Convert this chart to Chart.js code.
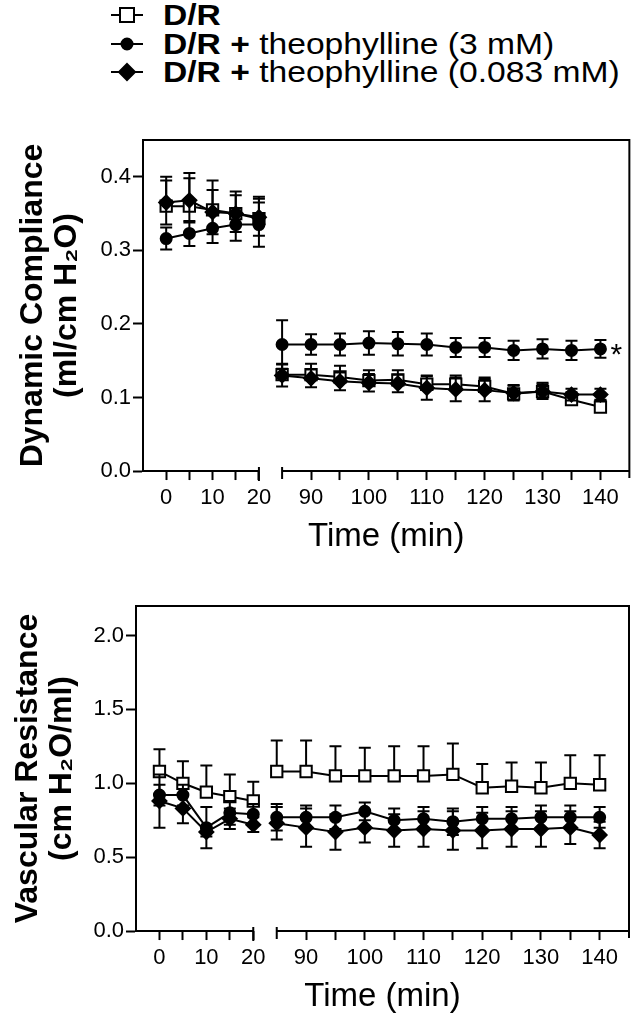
<!DOCTYPE html>
<html>
<head>
<meta charset="utf-8">
<script src="https://cdn.jsdelivr.net/npm/chart.js@4.4.1/dist/chart.umd.min.js"></script>
<style>
  body { margin: 0; background: #fff; width: 640px; height: 1018px; overflow: hidden; position: relative;
         font-family: 'Liberation Sans', Arial, sans-serif; color: #000; }
  #legend { position: absolute; left: 110px; top: 1px; }
  .row { height: 28.5px; display: flex; align-items: center; font-size: 30px; white-space: nowrap; }
  .row canvas { margin-right: 19px; }
  .row span { display: inline-block; transform: scaleX(1.12); transform-origin: left center; }
  #top { position: absolute; left: 0; top: 90px; }
  #bottom { position: absolute; left: 0; top: 560px; }
</style>
</head>
<body>
<div id="legend"></div>
<canvas id="top" width="640" height="470"></canvas>
<canvas id="bottom" width="640" height="458"></canvas>
<script>
// sampling times (min); the axis is broken between 20 and 85
const times = [0, 5, 10, 15, 20, 85, 90, 95, 100, 105, 110, 115, 120, 125, 130, 135, 140];
const seriesLabels = ['D/R', 'D/R + theophylline (3 mM)', 'D/R + theophylline (0.083 mM)'];

// dynamic compliance (ml/cm H2O), mean and SEM
const complianceDR = [0.360, 0.360, 0.355, 0.350, 0.343, 0.131, 0.131, 0.128, 0.123, 0.124, 0.118, 0.118, 0.115, 0.105, 0.108, 0.097, 0.087];
const complianceDRErr = [0.040, 0.045, 0.040, 0.030, 0.030, 0.015, 0.015, 0.015, 0.014, 0.013, 0.012, 0.012, 0.012, 0.012, 0.012, 0.010, 0.010];
const complianceTheo3 = [0.316, 0.323, 0.330, 0.335, 0.335, 0.172, 0.172, 0.172, 0.174, 0.173, 0.172, 0.168, 0.168, 0.164, 0.166, 0.164, 0.166];
const complianceTheo3Err = [0.015, 0.017, 0.020, 0.022, 0.030, 0.033, 0.014, 0.015, 0.016, 0.016, 0.015, 0.013, 0.013, 0.013, 0.013, 0.013, 0.012];
const complianceTheo083 = [0.365, 0.368, 0.352, 0.350, 0.345, 0.130, 0.126, 0.122, 0.120, 0.119, 0.113, 0.111, 0.110, 0.106, 0.108, 0.104, 0.104];
const complianceTheo083Err = [0.030, 0.030, 0.030, 0.025, 0.025, 0.015, 0.012, 0.012, 0.012, 0.012, 0.016, 0.016, 0.015, 0.010, 0.010, 0.008, 0.008];

// vascular resistance (cm H2O/ml), mean and SEM
const resistanceDR = [1.08, 1.00, 0.94, 0.91, 0.88, 1.08, 1.08, 1.05, 1.05, 1.05, 1.05, 1.06, 0.97, 0.98, 0.97, 1.00, 0.99];
const resistanceDRErr = [0.15, 0.15, 0.18, 0.15, 0.13, 0.21, 0.21, 0.20, 0.19, 0.20, 0.20, 0.21, 0.16, 0.16, 0.17, 0.19, 0.20];
const resistanceTheo3 = [0.92, 0.92, 0.70, 0.80, 0.79, 0.77, 0.77, 0.77, 0.81, 0.75, 0.76, 0.74, 0.76, 0.76, 0.77, 0.77, 0.77];
const resistanceTheo3Err = [0.07, 0.07, 0.14, 0.08, 0.07, 0.09, 0.08, 0.08, 0.06, 0.08, 0.08, 0.09, 0.08, 0.08, 0.08, 0.08, 0.07];
const resistanceTheo083 = [0.88, 0.83, 0.67, 0.76, 0.72, 0.73, 0.70, 0.67, 0.70, 0.68, 0.69, 0.68, 0.68, 0.69, 0.69, 0.70, 0.65];
const resistanceTheo083Err = [0.18, 0.10, 0.03, 0.07, 0.05, 0.11, 0.13, 0.12, 0.10, 0.11, 0.12, 0.13, 0.12, 0.12, 0.12, 0.11, 0.09];

// ticks
const xTicksEarly = [0, 5, 10, 15, 20];
const xTicksLate = [90, 95, 100, 105, 110, 115, 120, 125, 130, 135, 140];
const complianceTicks = [0, 0.1, 0.2, 0.3, 0.4];
const resistanceTicks = [0, 0.5, 1.0, 1.5, 2.0];

const FONT = 'Liberation Sans';
const styles = [
  { pointStyle: 'rect', pointRadius: 8, pointBackgroundColor: '#fff', errorDir: 'up', order: 3 },
  { pointStyle: 'circle', pointRadius: 5.5, pointBackgroundColor: '#000', errorDir: 'both', order: 2 },
  { pointStyle: 'rectRot', pointRadius: 7, pointBackgroundColor: '#000', errorDir: 'both', order: 1 }
];

function buildDatasets(values, errors) {
  const out = [];
  values.forEach((vals, k) => {
    [['x1', t => t <= 20], ['x2', t => t >= 85]].forEach(([axis, keep]) => {
      const idx = times.map((t, i) => i).filter(i => keep(times[i]));
      out.push(Object.assign({
        label: seriesLabels[k],
        xAxisID: axis,
        yAxisID: 'y',
        data: idx.map(i => ({ x: times[i], y: vals[i] })),
        errors: idx.map(i => errors[k][i]),
        borderColor: '#000',
        borderWidth: 2,
        pointBorderColor: '#000',
        pointBorderWidth: 2,
        pointHoverRadius: 0,
        tension: 0,
        fill: false
      }, styles[k]));
    });
  });
  return out;
}

const errorBars = {
  id: 'errorBars',
  beforeDatasetDraw(chart, args) {
    const ds = chart.data.datasets[args.index];
    if (!ds.errors) return;
    const yScale = chart.scales[args.meta.yAxisID];
    const ctx = chart.ctx;
    ctx.save();
    ctx.strokeStyle = '#000';
    ctx.lineWidth = 2;
    args.meta.data.forEach((pt, i) => {
      const v = ds.data[i].y, e = ds.errors[i];
      const yHi = yScale.getPixelForValue(v + e);
      const yLo = ds.errorDir === 'up' ? pt.y : yScale.getPixelForValue(v - e);
      ctx.beginPath();
      ctx.moveTo(pt.x, yLo); ctx.lineTo(pt.x, yHi);
      ctx.moveTo(pt.x - 6, yHi); ctx.lineTo(pt.x + 6, yHi);
      if (ds.errorDir !== 'up') { ctx.moveTo(pt.x - 6, yLo); ctx.lineTo(pt.x + 6, yLo); }
      ctx.stroke();
    });
    ctx.restore();
  }
};

// frame + broken x axis line
const brokenAxis = {
  id: 'brokenAxis',
  afterDraw(chart) {
    const { ctx, chartArea: a, scales } = chart;
    const yb = a.bottom;
    const e = scales.x1.getPixelForValue(20);
    const s = scales.x2.getPixelForValue(85);
    ctx.save();
    ctx.strokeStyle = '#000';
    ctx.lineWidth = 2;
    ctx.beginPath();
    ctx.moveTo(a.left, a.top); ctx.lineTo(a.right, a.top); ctx.lineTo(a.right, yb + 7);
    ctx.moveTo(a.left, yb); ctx.lineTo(e, yb);
    ctx.moveTo(e, yb - 4); ctx.lineTo(e, yb + 10);
    ctx.moveTo(s, yb - 4); ctx.lineTo(s, yb + 8);
    ctx.moveTo(s, yb); ctx.lineTo(a.right, yb);
    ctx.stroke();
    ctx.restore();
  }
};

const starMark = {
  id: 'starMark',
  afterDatasetsDraw(chart, args, opts) {
    if (!opts || !opts.text) return;
    const meta = chart.getDatasetMeta(opts.datasetIndex);
    const pt = meta.data[meta.data.length - 1];
    const ctx = chart.ctx;
    ctx.save();
    ctx.fillStyle = '#000';
    ctx.font = '30px "' + FONT + '"';
    ctx.textAlign = 'left';
    ctx.textBaseline = 'middle';
    ctx.fillText(opts.text, pt.x + 10, pt.y + 7);
    ctx.restore();
  }
};

function makePanel(id, cfg) {
  const tickFont = { family: FONT, size: 22 };
  const xCommon = {
    type: 'linear', position: 'bottom', stack: 'time',
    afterFit: s => { s.height = 40; },
    ticks: { font: tickFont, color: '#000', padding: 5, autoSkip: false, maxRotation: 0, minRotation: 0,
             callback: v => (v % 10 === 0 ? String(v) : '') },
    grid: { drawOnChartArea: false, tickLength: 9, tickWidth: 2, tickColor: '#000' },
    border: { display: false }
  };
  return new Chart(document.getElementById(id), {
    type: 'line',
    data: { datasets: buildDatasets(cfg.values, cfg.errors) },
    plugins: [errorBars, brokenAxis, starMark],
    options: {
      responsive: false,
      animation: false,
      devicePixelRatio: 1,
      layout: { padding: cfg.padding },
      scales: {
        x1: Object.assign({}, xCommon, {
          min: -5, max: 22.5, stackWeight: 129,
          afterBuildTicks: s => { s.ticks = xTicksEarly.map(v => ({ value: v })); }
        }),
        x2: Object.assign({}, xCommon, {
          min: 83, max: 145, stackWeight: cfg.lateWeight,
          afterBuildTicks: s => { s.ticks = xTicksLate.map(v => ({ value: v })); }
        }),
        y: {
          min: 0, max: cfg.yMax,
          afterBuildTicks: s => { s.ticks = cfg.yTicks.map(v => ({ value: v })); },
          afterFit: s => { s.width = cfg.yWidth; },
          ticks: { font: tickFont, color: '#000', padding: 2, callback: v => Number(v).toFixed(1) },
          grid: { drawOnChartArea: false, tickLength: 10, tickWidth: 2, tickColor: '#000' },
          border: { display: true, color: '#000', width: 2 },
          title: { display: true, text: cfg.yTitle, color: '#000',
                   font: { family: FONT, size: 32, weight: 'bold', lineHeight: 1.06 },
                   padding: { top: cfg.titlePad, bottom: 0 } }
        }
      },
      plugins: {
        legend: { display: false },
        tooltip: { enabled: false },
        title: { display: true, position: 'bottom', fullSize: false, text: 'Time (min)', color: '#000',
                 font: { family: FONT, size: 33, weight: 'normal', lineHeight: 1.15 },
                 padding: { top: 7, bottom: 0 } },
        starMark: cfg.star || {}
      }
    }
  });
}

const topChart = makePanel('top', {
  values: [complianceDR, complianceTheo3, complianceTheo083],
  errors: [complianceDRErr, complianceTheo3Err, complianceTheo083Err],
  yMax: 0.45, yTicks: complianceTicks, yWidth: 143, lateWeight: 363, titlePad: 16,
  yTitle: ['Dynamic Compliance', '(ml/cm H\u2082O)'],
  padding: { top: 50, right: 5, bottom: 4, left: 0 },
  star: { datasetIndex: 3, text: '*' }
});

makePanel('bottom', {
  values: [resistanceDR, resistanceTheo3, resistanceTheo083],
  errors: [resistanceDRErr, resistanceTheo3Err, resistanceTheo083Err],
  yMax: 2.2, yTicks: resistanceTicks, yWidth: 136, lateWeight: 364, titlePad: 11,
  yTitle: ['Vascular Resistance', '(cm H\u2082O/ml)'],
  padding: { top: 46, right: 11, bottom: 2, left: 0 }
});

// html legend built from the top chart's datasets
const legend = document.getElementById('legend');
topChart.data.datasets.filter(d => d.xAxisID === 'x1').forEach(ds => {
  const row = document.createElement('div');
  row.className = 'row';
  const icon = document.createElement('canvas');
  icon.width = 34; icon.height = 24;
  const c = icon.getContext('2d');
  c.strokeStyle = '#000'; c.lineWidth = 2;
  c.beginPath(); c.moveTo(1, 12); c.lineTo(33, 12); c.stroke();
  c.fillStyle = ds.pointBackgroundColor;
  c.beginPath();
  if (ds.pointStyle === 'rect') c.rect(10, 5, 14, 14);
  else if (ds.pointStyle === 'circle') c.arc(17, 12, 5.5, 0, Math.PI * 2);
  else { c.moveTo(17, 4); c.lineTo(25, 12); c.lineTo(17, 20); c.lineTo(9, 12); c.closePath(); }
  c.fill(); c.stroke();
  row.appendChild(icon);
  const text = document.createElement('span');
  const parts = ds.label.split(' + ');
  text.innerHTML = '<b>' + parts[0] + '</b>' + (parts[1] ? ' <b>+</b> ' + parts[1] : '');
  row.appendChild(text);
  legend.appendChild(row);
});
</script>
</body>
</html>
